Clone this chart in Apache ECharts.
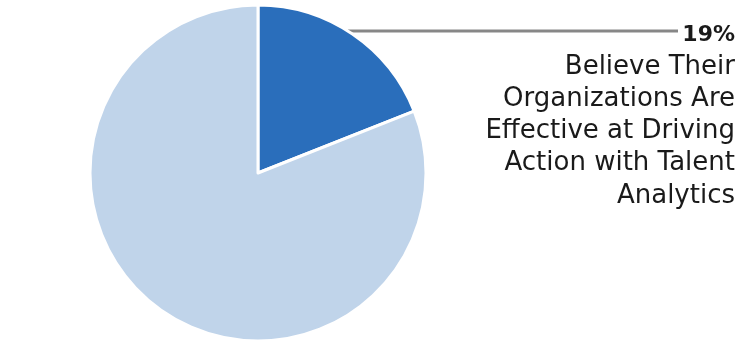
<!DOCTYPE html>
<html>
<head>
<meta charset="utf-8">
<script src="https://cdn.jsdelivr.net/npm/echarts@6/dist/echarts.min.js"></script>
<style>
  html, body { margin: 0; padding: 0; background: #ffffff; }
  #chart { width: 753px; height: 340px; }
</style>
</head>
<body>
<div id="chart"></div>
<script>
// Share of respondents, in percent
const categories = ['Effective', 'Other'];
const values = [19, 81];
const labelLines = ['Believe Their', 'Organizations Are', 'Effective at Driving', 'Action with Talent', 'Analytics'];
const colors = ['#2a6ebb', '#c0d4ea'];

const center = [258, 173];
const radius = 168;
const labelRight = 735;
const labelTop = 20;
const leaderY = 31;
const leaderEnd = 678;

const chart = echarts.init(document.getElementById('chart'), null, { renderer: 'canvas' });

const labelText = '{v|' + values[0] + '%}\n' + labelLines.map(l => '{t|' + l + '}').join('\n');

chart.setOption({
  animation: false,
  series: [{
    type: 'pie',
    center: center,
    radius: radius,
    startAngle: 90,
    clockwise: true,
    itemStyle: { borderColor: '#ffffff', borderWidth: 3 },
    data: categories.map((c, i) => ({
      name: c,
      value: values[i],
      itemStyle: { color: colors[i] },
      label: { show: i === 0 },
      labelLine: { show: i === 0 }
    })),
    label: {
      formatter: () => labelText,
      align: 'right',
      rich: {
        v: { fontFamily: 'DejaVu Sans', fontWeight: 'bold', fontSize: 22, lineHeight: 31, color: '#1a1a1a', align: 'right' },
        t: { fontFamily: 'DejaVu Sans', fontSize: 26, lineHeight: 32.2, color: '#1a1a1a', align: 'right' }
      }
    },
    labelLine: { lineStyle: { color: '#878787', width: 3 } },
    labelLayout: function () {
      const dy = center[1] - leaderY;
      const edgeX = center[0] + Math.sqrt(radius * radius - dy * dy);
      return {
        x: labelRight,
        y: labelTop,
        align: 'right',
        verticalAlign: 'top',
        labelLinePoints: [[edgeX, leaderY], [leaderEnd, leaderY], [leaderEnd, leaderY]]
      };
    }
  }]
});
</script>
</body>
</html>
